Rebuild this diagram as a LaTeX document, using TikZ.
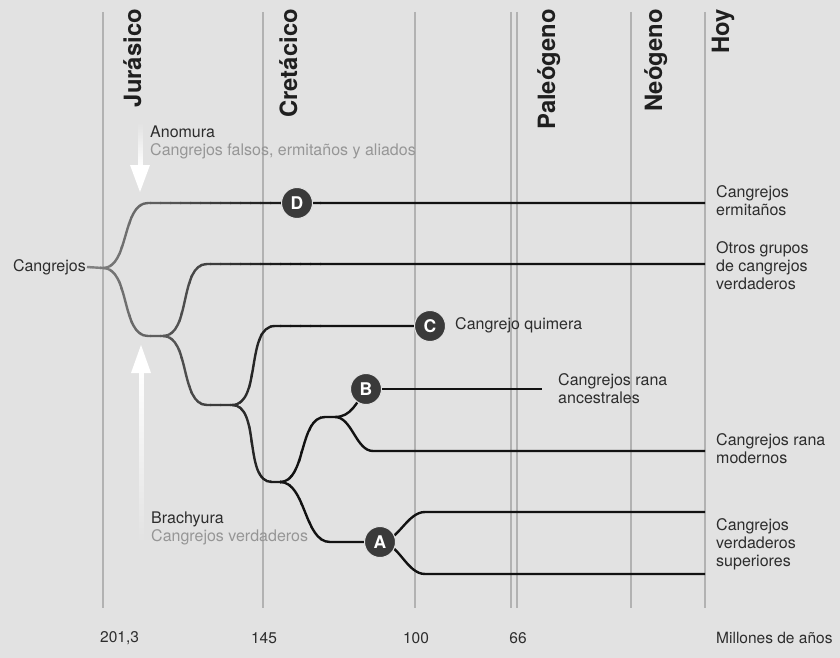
\documentclass[tikz,border=0pt]{standalone}
\usepackage{fontspec}
\setmainfont{TeX Gyre Heros}
\usepackage{xcolor}
\definecolor{paper}{RGB}{226, 226, 226}
\definecolor{epochgray}{RGB}{178, 178, 178}
\definecolor{inkdark}{RGB}{45, 45, 45}
\definecolor{inklight}{RGB}{150, 150, 150}
\definecolor{dotgray}{RGB}{58, 58, 58}
\usepackage{tikz}
\usetikzlibrary{fadings}
\tikzfading[name=fade top, top color=transparent!100, bottom color=transparent!0]
\tikzfading[name=fade bottom, top color=transparent!0, bottom color=transparent!100]
\pgfdeclarelayer{back}
\pgfsetlayers{back,main}

\begin{document}
\begin{tikzpicture}[x=1pt, y=-1pt,
    leaf/.style={inner sep=0pt, anchor=west, align=left, text=inkdark, font=\fontsize{16}{18}\selectfont},
    leafnote/.style={leaf, text=inklight},
    period/.style={rotate=90, anchor=base east, inner sep=0pt, text=black!88, font=\fontsize{23.8}{26}\selectfont\bfseries},
    age/.style={inner sep=0pt, text=inkdark, font=\fontsize{15.5}{18}\selectfont},
    stage/.style={circle, fill=dotgray, draw=paper, line width=1pt, minimum size=31pt, inner sep=0pt, text=white, font=\fontsize{17.5}{17.5}\selectfont\bfseries},
    branch/.style={line width=2.4pt},
    sbend/.style={out=0, in=180, looseness=0.85},
    epoch/.style={epochgray, line width=2pt}]
    \useasboundingbox (0, 0) rectangle (840, 658);

    % background and time lines
    \begin{pgfonlayer}{back}
        \fill[paper] (0, 0) rectangle (840, 658);
        \foreach \x/\w in {103/2, 263/2, 415/1.2, 511/1.2, 517/2, 631/2, 705/2}
            \draw[epoch, line width=\w pt] (\x, 12) -- (\x, 608);
    \end{pgfonlayer}

    \node[period] at (141, 9) {Jurásico};
    \node[period] at (297, 9) {Cretácico};
    \node[period] at (555, 9) {Paleógeno};
    \node[period] at (662, 9) {Neógeno};
    \node[period] at (729, 9) {Hoy};

    % branch points
    \coordinate (root) at (103, 268);
    \coordinate (anoEnd) at (148, 203);
    \coordinate (ermEnd) at (705, 203);
    \coordinate (braEnd) at (148, 336);
    \coordinate (n1) at (163, 336);
    \coordinate (otrosStart) at (207, 264);
    \coordinate (otrosEnd) at (705, 264);
    \coordinate (n2in) at (207, 405);
    \coordinate (n2) at (232, 405);
    \coordinate (cStart) at (275, 326);
    \coordinate (n3in) at (272, 482);
    \coordinate (n3) at (280, 482);
    \coordinate (n4in) at (325, 417);
    \coordinate (n4) at (335, 417);
    \coordinate (modIn) at (373, 451);
    \coordinate (modEnd) at (705, 451);
    \coordinate (aIn) at (330, 542);
    \coordinate (supUp) at (425, 512);
    \coordinate (supUpEnd) at (705, 512);
    \coordinate (supLo) at (425, 574);
    \coordinate (supLoEnd) at (705, 574);
    \coordinate (anceEnd) at (542, 389);

    \node[stage] (D) at (297, 203) {D};
    \node[stage] (C) at (430, 326) {C};
    \node[stage] (B) at (366, 389) {B};
    \node[stage] (A) at (380, 542) {A};

    \node[leaf, anchor=east, inner sep=1pt] (cang) at (87, 267) {Cangrejos};
    \node[leaf] (lErm) at (716, 201) {Cangrejos\\ermitaños};
    \node[leaf] (lOtros) at (716, 266) {Otros grupos\\de cangrejos\\verdaderos};
    \node[leaf] (lQuim) at (455, 325) {Cangrejo quimera};
    \node[leaf] (lAnce) at (558, 389) {Cangrejos rana\\ancestrales};
    \node[leaf] (lMod) at (716, 449) {Cangrejos rana\\modernos};
    \node[leaf] (lSup) at (716, 544) {Cangrejos\\verdaderos\\superiores};

    \node[leaf] (anomura) at (150, 132) {Anomura};
    \node[leafnote] (anomuraSub) at (150, 151) {Cangrejos falsos, ermitaños y aliados};
    \node[leaf] (brachyura) at (151, 519) {Brachyura};
    \node[leafnote] (brachyuraSub) at (151, 537) {Cangrejos verdaderos};

    % white arrows
    \fill[white, path fading=fade top] (137.5, 122) rectangle (142.5, 166);
    \fill[white] (130, 165) -- (150, 165) -- (140, 192) -- cycle;
    \fill[white] (131, 373) -- (151, 373) -- (141, 345) -- cycle;
    \fill[white, path fading=fade bottom] (138.5, 372) rectangle (143.5, 545);

    % the tree, darker towards the right
    \begin{pgfonlayer}{back}
    \foreach \xa [evaluate=\xa as \xb using {\xa < 320 ? \xa + 11 : 840},
                  evaluate=\xa as \tone using {min(93, 50 + 0.22*(\xa - 90))}] in {80, 90, ..., 320} {
        \begin{scope}
            \clip (\xa, 0) rectangle (\xb, 658);
            \draw[branch, black!\tone] (cang.east) -- (root);
            \draw[branch, black!\tone] (root) to[sbend] (anoEnd) -- (ermEnd);
            \draw[branch, black!\tone] (root) to[sbend] (braEnd) -- (n1);
            \draw[branch, black!\tone] (n1) to[sbend] (otrosStart) -- (otrosEnd);
            \draw[branch, black!\tone] (n1) to[sbend] (n2in) -- (n2);
            \draw[branch, black!\tone] (n2) to[sbend] (cStart) -- (C);
            \draw[branch, black!\tone] (n2) to[sbend] (n3in) -- (n3);
            \draw[branch, black!\tone] (n3) to[sbend] (n4in) -- (n4);
            \draw[branch, black!\tone] (n4) to[out=0, in=235] (B.center);
            \draw[branch, black!\tone] (B) -- (anceEnd);
            \draw[branch, black!\tone] (n4) to[sbend] (modIn) -- (modEnd);
            \draw[branch, black!\tone] (n3) to[sbend] (aIn) -- (A);
            \draw[branch, black!\tone] (A.center) to[sbend] (supUp) -- (supUpEnd);
            \draw[branch, black!\tone] (A.center) to[sbend] (supLo) -- (supLoEnd);
        \end{scope}
    }
    \end{pgfonlayer}

    % time axis
    \node[age, anchor=west] (t201) at (100, 638) {201,3};
    \node[age] (t145) at (264, 638) {145};
    \node[age] (t100) at (416, 638) {100};
    \node[age] (t66) at (518, 638) {66};
    \node[age, anchor=west] (tUnit) at (716, 638) {Millones de años};
\end{tikzpicture}
\end{document}
